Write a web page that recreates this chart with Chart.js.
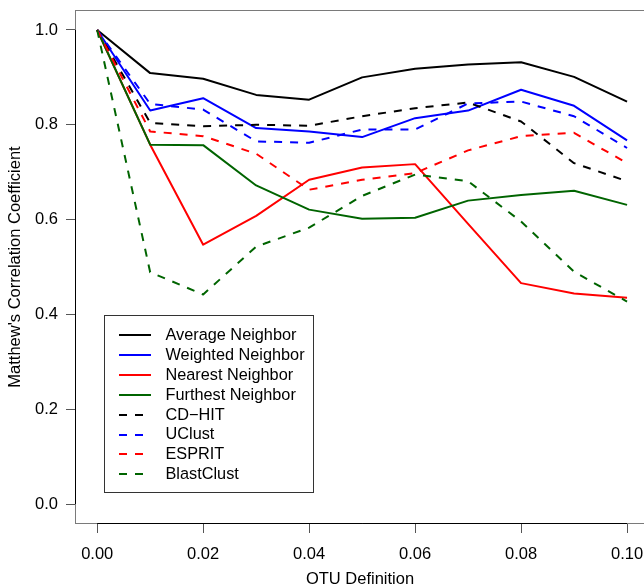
<!DOCTYPE html>
<html>
<head>
<meta charset="utf-8">
<script src="https://cdn.jsdelivr.net/npm/chart.js@4"></script>
<style>
html,body{margin:0;padding:0;background:#fff;overflow:hidden;}
canvas{display:block;}
</style>
</head>
<body>
<canvas id="c" width="644" height="588"></canvas>
<script>
// ---- data ----
const otuDefinition = [0.00, 0.01, 0.02, 0.03, 0.04, 0.05, 0.06, 0.07, 0.08, 0.09, 0.10];
const averageNeighbor  = [1.0, 0.909, 0.897, 0.863, 0.853, 0.900, 0.918, 0.927, 0.932, 0.901, 0.849];
const weightedNeighbor = [1.0, 0.830, 0.856, 0.793, 0.786, 0.774, 0.814, 0.830, 0.874, 0.840, 0.767];
const nearestNeighbor  = [1.0, 0.758, 0.547, 0.608, 0.684, 0.710, 0.717, 0.591, 0.466, 0.444, 0.435];
const furthestNeighbor = [1.0, 0.758, 0.757, 0.672, 0.621, 0.602, 0.604, 0.640, 0.652, 0.661, 0.631];
const cdHit      = [1.0, 0.804, 0.797, 0.800, 0.798, 0.818, 0.835, 0.847, 0.807, 0.719, 0.681];
const uClust     = [1.0, 0.844, 0.832, 0.765, 0.762, 0.790, 0.790, 0.845, 0.849, 0.818, 0.751];
const esprit     = [1.0, 0.786, 0.776, 0.739, 0.663, 0.684, 0.698, 0.746, 0.776, 0.783, 0.719];
const blastClust = [1.0, 0.489, 0.442, 0.543, 0.583, 0.650, 0.695, 0.681, 0.596, 0.490, 0.427];
const seriesNames = ["Average Neighbor", "Weighted Neighbor", "Nearest Neighbor", "Furthest Neighbor",
                     "CD\u2212HIT", "UClust", "ESPRIT", "BlastClust"];
const xTickValues = [0.00, 0.02, 0.04, 0.06, 0.08, 0.10];
const yTickValues = [0.0, 0.2, 0.4, 0.6, 0.8, 1.0];
const xTitle = "OTU Definition";
const yTitle = "Matthew's Correlation Coefficient";

// ---- styles ----
const FONT = '"Liberation Sans", Arial, Helvetica, sans-serif';
const GREEN = '#006400';
const seriesValues = [averageNeighbor, weightedNeighbor, nearestNeighbor, furthestNeighbor, cdHit, uClust, esprit, blastClust];
const seriesColors = ['#000000', '#0000ff', '#ff0000', GREEN, '#000000', '#0000ff', '#ff0000', GREEN];
const seriesDashed = [false, false, false, false, true, true, true, true];
const DASH = [8, 8];

const datasets = seriesValues.map((vals, i) => ({
  label: seriesNames[i],
  data: vals.map((v, j) => ({x: otuDefinition[j], y: v})),
  borderColor: seriesColors[i],
  backgroundColor: seriesColors[i],
  borderWidth: 2,
  borderDash: seriesDashed[i] ? DASH : [],
  borderCapStyle: 'butt',
  borderJoinStyle: 'round',
  pointRadius: 0,
  tension: 0,
  fill: false,
  order: seriesValues.length - 1 - i
}));

const framePlugin = {
  id: 'frame',
  afterDraw(chart) {
    const {ctx, chartArea: a, scales} = chart;
    const xs = scales.x, ys = scales.y;
    ctx.save();
    // box
    ctx.strokeStyle = '#7a7a7a';
    ctx.lineWidth = 1;
    const right = xs.getPixelForValue(0.104);
    ctx.strokeRect(a.left - 0.5, a.top - 0.5, right - a.left + 1, a.bottom - a.top + 1);
    // axis lines over the tick range
    ctx.strokeStyle = '#000';
    ctx.beginPath();
    ctx.moveTo(a.left - 0.5, ys.getPixelForValue(yTickValues[0]));
    ctx.lineTo(a.left - 0.5, ys.getPixelForValue(yTickValues[yTickValues.length - 1]));
    ctx.moveTo(xs.getPixelForValue(xTickValues[0]), a.bottom + 0.5);
    ctx.lineTo(xs.getPixelForValue(xTickValues[xTickValues.length - 1]), a.bottom + 0.5);
    ctx.stroke();

    // legend
    const lx = 104.5, ly = 315.5, lw = 209, lh = 177;
    ctx.fillStyle = '#fff';
    ctx.fillRect(lx, ly, lw, lh);
    ctx.strokeStyle = '#333';
    ctx.strokeRect(lx, ly, lw, lh);
    ctx.font = '16.3px ' + FONT;
    ctx.textBaseline = 'middle';
    ctx.textAlign = 'left';
    chart.data.datasets.forEach((ds, i) => {
      const y = 335 + i * 19.9;
      ctx.strokeStyle = ds.borderColor;
      ctx.lineWidth = 2;
      ctx.lineCap = 'butt';
      ctx.setLineDash(ds.borderDash);
      ctx.beginPath();
      ctx.moveTo(119, Math.round(y));
      ctx.lineTo(151, Math.round(y));
      ctx.stroke();
      ctx.setLineDash([]);
      ctx.fillStyle = '#000';
      ctx.fillText(ds.label, 165.5, y + 0.5);
    });
    ctx.restore();
  }
};

new Chart(document.getElementById('c'), {
  type: 'line',
  data: {datasets},
  plugins: [framePlugin],
  options: {
    responsive: false,
    animation: false,
    devicePixelRatio: 1,
    layout: {padding: {top: 11, right: 0, left: 0, bottom: 0}},
    plugins: {legend: {display: false}, tooltip: {enabled: false}},
    scales: {
      x: {
        type: 'linear',
        min: -0.004,
        max: 0.1032,
        afterBuildTicks: s => { s.ticks = xTickValues.map(v => ({value: v})); },
        afterFit: s => { s.height = 65; s.paddingLeft = 0; s.paddingRight = 0; },
        grid: {drawOnChartArea: false, drawTicks: true, tickLength: 10, color: '#555', tickWidth: 1},
        border: {display: false},
        ticks: {color: '#000', font: {family: FONT, size: 16.5}, padding: 12, maxRotation: 0,
                autoSkip: false, callback: v => Number(v).toFixed(2)},
        title: {display: true, text: xTitle, color: '#000', font: {family: FONT, size: 16.5, lineHeight: 1}, padding: 0}
      },
      y: {
        min: -0.04,
        max: 1.04,
        afterBuildTicks: s => { s.ticks = yTickValues.map(v => ({value: v})); },
        afterFit: s => { s.width = 76; s.paddingTop = 0; s.paddingBottom = 0; },
        grid: {drawOnChartArea: false, drawTicks: true, tickLength: 10, color: '#555', tickWidth: 1},
        border: {display: false},
        ticks: {color: '#000', font: {family: FONT, size: 16.5}, padding: 8, autoSkip: false,
                callback: v => Number(v).toFixed(1)},
        title: {display: true, text: yTitle, color: '#000', font: {family: FONT, size: 16.5, lineHeight: 1.2}, padding: 6}
      }
    }
  }
});
</script>
</body>
</html>
